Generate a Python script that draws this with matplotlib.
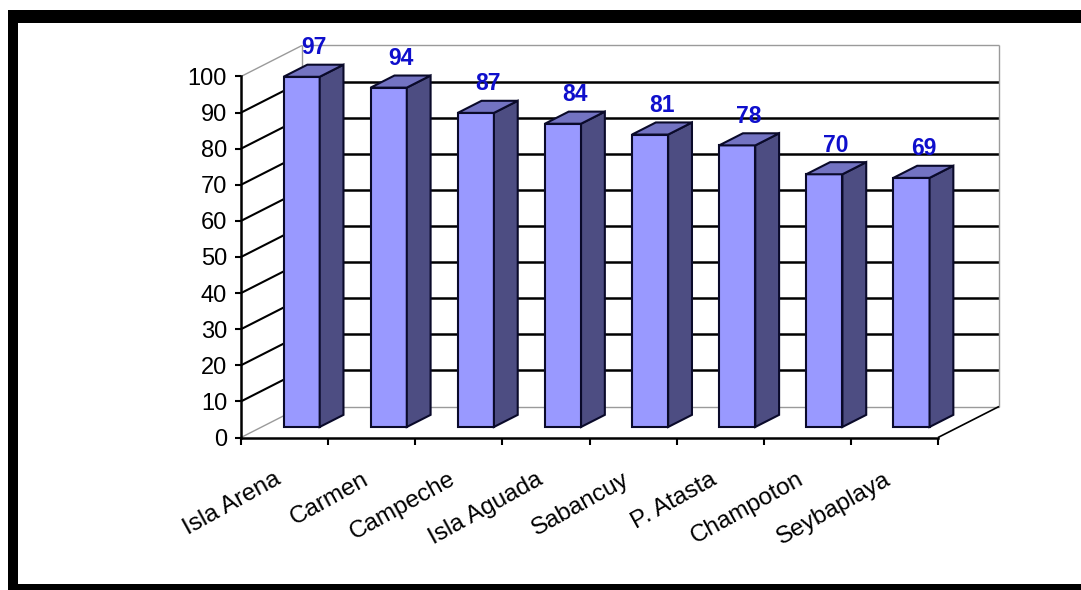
import matplotlib
matplotlib.use("Agg")
import matplotlib.pyplot as plt
from matplotlib.patches import Polygon, Rectangle

# ---- data ----
categories = ["Isla Arena", "Carmen", "Campeche", "Isla Aguada",
              "Sabancuy", "P. Atasta", "Champoton", "Seybaplaya"]
values = [97, 94, 87, 84, 81, 78, 70, 69]
y_ticks = [0, 10, 20, 30, 40, 50, 60, 70, 80, 90, 100]

plt.rcParams["font.family"] = ["Liberation Sans", "DejaVu Sans"]

W, H = 1081, 590
fig = plt.figure(figsize=(W / 100, H / 100), dpi=100)
ax = fig.add_axes([0, 0, 1, 1])
ax.patch.set_visible(False)

# layout of the pseudo-3D plot area (pixels)
X0_PX, X1_PX = 241, 938          # front floor edge
Y0_PX = 437.5                    # value 0 on the front plane
PX_PER_UNIT = 3.61
n = len(categories)
PX_PER_CAT = (X1_PX - X0_PX) / n
ax.set_xlim(-X0_PX / PX_PER_CAT, (W - X0_PX) / PX_PER_CAT)
ax.set_ylim(-(H - Y0_PX) / PX_PER_UNIT, Y0_PX / PX_PER_UNIT)

# oblique depth offset (front plane -> back wall)
DX = 61 / PX_PER_CAT
DY = 31 / PX_PER_UNIT


def proj(x, v, t):
    return (x + t * DX, v + t * DY)


def seg(p, q, **kw):
    ax.plot([p[0], q[0]], [p[1], q[1]], solid_capstyle="butt", **kw)


GRAY = "#9a9a9a"
vmax = y_ticks[-1]

# back wall and left wall gridlines
for v in y_ticks:
    edge = v in (y_ticks[0], y_ticks[-1])
    col, lw = (GRAY, 1.0) if edge else ("black", 1.8)
    seg(proj(0, v, 1), proj(n, v, 1), color=col, lw=lw, zorder=1)
    seg(proj(0, v, 0), proj(0, v, 1), color=col, lw=1.0 if edge else 1.5, zorder=1)
seg(proj(0, 0, 1), proj(0, vmax, 1), color=GRAY, lw=1.0, zorder=1)
seg(proj(n, 0, 1), proj(n, vmax, 1), color=GRAY, lw=1.0, zorder=1)
# floor right edge
seg(proj(n, 0, 0), proj(n, 0, 1), color="black", lw=1.2, zorder=1)

# bars
FRONT, SIDE, TOP = "#9999FF", "#4D4D82", "#7373C2"
EDGE = "#0A0A2A"
xl_off, xr_off = 0.25, 0.665
t0, t1 = 0.34, 0.73
tm = (t0 + t1) / 2
for i, v in enumerate(values):
    xl, xr = i + xl_off, i + xr_off
    front = [proj(xl, 0, t0), proj(xr, 0, t0), proj(xr, v, t0), proj(xl, v, t0)]
    side = [proj(xr, 0, t0), proj(xr, 0, t1), proj(xr, v, t1), proj(xr, v, t0)]
    top = [proj(xl, v, t0), proj(xr, v, t0), proj(xr, v, t1), proj(xl, v, t1)]
    for poly, fc in ((front, FRONT), (side, SIDE), (top, TOP)):
        ax.add_patch(Polygon(poly, closed=True, facecolor=fc, edgecolor=EDGE,
                             lw=1.5, joinstyle="miter", zorder=3))
    cx, cy = proj((xl + xr) / 2, v, tm)
    ax.annotate(str(v), xy=(cx, cy), xytext=(0, 23 * 0.72), textcoords="offset points",
                ha="center", va="center", color="#0F0FCC", fontweight="bold",
                fontsize=16.5, zorder=5)

# front axes
for s in ("top", "right"):
    ax.spines[s].set_visible(False)
ax.spines["left"].set_position(("data", 0))
ax.spines["left"].set_bounds(0, vmax)
ax.spines["bottom"].set_position(("data", 0))
ax.spines["bottom"].set_bounds(0, n)
for s in ("left", "bottom"):
    ax.spines[s].set_linewidth(1.8)
    ax.spines[s].set_zorder(4)
ax.set_yticks(y_ticks)
ax.set_yticklabels([str(v) for v in y_ticks])
ax.set_xticks(range(n + 1))
ax.set_xticklabels([])
ax.tick_params(axis="y", direction="out", length=4, width=1.5, pad=6, labelsize=17)
ax.tick_params(axis="x", direction="out", length=5, width=1.5)

# category labels
for i, name in enumerate(categories):
    ax.text(i + 0.5 - 5 / PX_PER_CAT, -(478 - Y0_PX) / PX_PER_UNIT, name,
            rotation=29, rotation_mode="anchor", ha="right", va="center",
            fontsize=17.5, zorder=5)

# outer black frame
fig.add_artist(Rectangle((8 / W, -0.1), 1.2, 1 - 10 / H + 0.1, transform=fig.transFigure,
                         facecolor="black", edgecolor="none", zorder=-10))
fig.add_artist(Rectangle((18 / W, 6 / H), 1.2, 1 - 29 / H, transform=fig.transFigure,
                         facecolor="white", edgecolor="none", zorder=-9))

fig.savefig("out.png", dpi=100)
